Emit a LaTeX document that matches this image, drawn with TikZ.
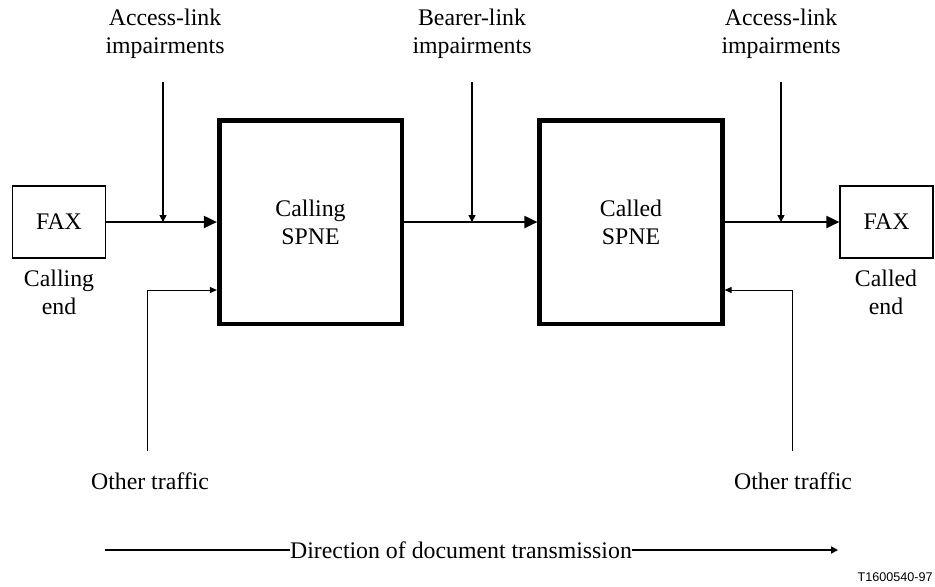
\documentclass[tikz,border=0pt]{standalone}
\usepackage{fontspec}
\setmainfont{Liberation Serif}
\newfontfamily\tagfont{Liberation Sans}
\usetikzlibrary{arrows.meta,positioning}

\tikzset{
  faxbox/.style={draw,line width=0.6pt,minimum width=46.5pt,minimum height=36pt},
  spnebox/.style={draw,line width=2.3pt,minimum width=91.3pt,minimum height=101.8pt,align=center},
  lbl/.style={align=center,inner sep=0pt},
  mainline/.style={line width=1pt,-{Triangle[length=6.5pt,width=6pt]}},
  feed/.style={line width=0.75pt,-{Triangle[length=3.5pt,width=3.5pt]}},
  thinfeed/.style={line width=0.5pt,-{Triangle[length=3.5pt,width=3pt]}},
}

\begin{document}
\begin{tikzpicture}[x=0.5pt,y=-0.5pt,font=\fontsize{11.9}{14}\selectfont]
  \useasboundingbox (0,0) rectangle (935,586);

  \node[faxbox] (faxA) at (59,222) {FAX};
  \node[spnebox] (calling) at (310.5,222) {Calling\\SPNE};
  \node[spnebox] (called) at (631,222) {Called\\SPNE};
  \node[faxbox] (faxB) at (886.5,222) {FAX};

  \node[lbl] (endA) at (59,292) {Calling\\end};
  \node[lbl] (endB) at (886,292) {Called\\end};

  \node[lbl] (accA) at (165,34) {Access-link\\impairments};
  \node[lbl] (bearer) at (472,34) {Bearer-link\\impairments};
  \node[lbl] (accB) at (781,34) {Access-link\\impairments};

  \node[lbl] (othA) at (150,481) {Other traffic};
  \node[lbl] (othB) at (793,481) {Other traffic};

  % impairment feeds
  \coordinate (tA) at (163,82);
  \coordinate (tB) at (472,82);
  \coordinate (tC) at (781,82);
  \coordinate (jA) at (163,222);
  \coordinate (jB) at (472,222);
  \coordinate (jC) at (781,222);
  \coordinate (oA) at (147,451);
  \coordinate (oB) at (792,451);

  \draw[mainline] (faxA) -- (calling);
  \draw[mainline] (calling) -- (called);
  \draw[mainline] (called) -- (faxB);

  \draw[feed] (tA) -- (jA);
  \draw[feed] (tB) -- (jB);
  \draw[feed] (tC) -- (jC);

  \draw[thinfeed] (oA) |- ([yshift=-34pt]calling.west);
  \draw[thinfeed] (oB) |- ([yshift=-34pt]called.east);

  % direction of transmission
  \node[lbl] (dir) at (461,550) {Direction of document transmission};
  \coordinate (dirA) at (105,550);
  \coordinate (dirB) at (838,550);
  \draw[line width=1pt] (dirA) -- (dir.west);
  \draw[feed,line width=1pt] (dir.east) -- (dirB);

  \node[anchor=east,inner sep=0pt,font=\tagfont\fontsize{6.3}{8}\selectfont] (tag) at (933,577) {T1600540-97};
\end{tikzpicture}
\end{document}
